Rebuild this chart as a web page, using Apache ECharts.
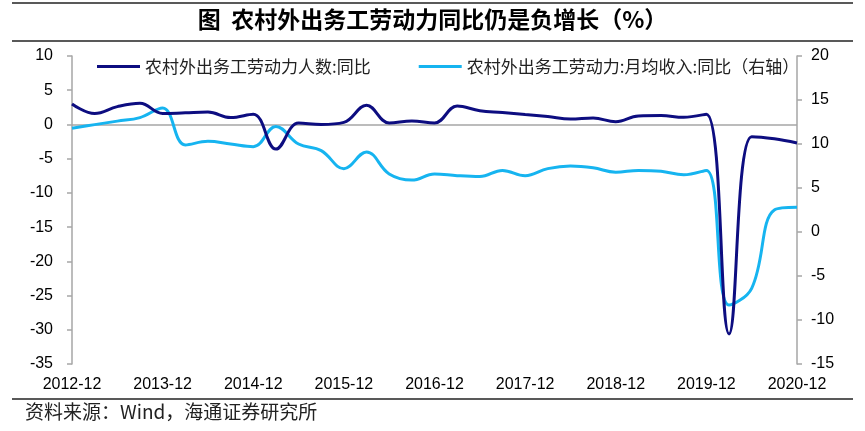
<!DOCTYPE html>
<html>
<head>
<meta charset="utf-8">
<script src="https://cdn.jsdelivr.net/npm/echarts@6/dist/echarts.min.js"></script>
<style>
html,body{margin:0;padding:0;background:#fff;}
#chart{width:865px;height:431px;}
</style>
</head>
<body>
<div id="chart"></div>
<script>
// Quarterly categories
const categories = [
  '2012-12','2013-03','2013-06','2013-09','2013-12','2014-03','2014-06','2014-09',
  '2014-12','2015-03','2015-06','2015-09','2015-12','2016-03','2016-06','2016-09',
  '2016-12','2017-03','2017-06','2017-09','2017-12','2018-03','2018-06','2018-09',
  '2018-12','2019-03','2019-06','2019-09','2019-12','2020-03','2020-06','2020-09',
  '2020-12'
];
// 农村外出务工劳动力人数:同比 (left axis)
const workersYoY = [
  3.0, 1.6, 2.6, 3.1, 1.6, 1.7, 1.8, 1.0,
  1.5, -3.6, 0.2, 0.0, 0.3, 2.8, 0.2, 0.5,
  0.2, 2.7, 2.0, 1.75, 1.45, 1.15, 0.8, 0.95,
  0.4, 1.25, 1.3, 1.05, 1.5, -30.6, -1.8, -2.1,
  -2.7
];
// 农村外出务工劳动力:月均收入:同比 (right axis)
const incomeYoY = [
  11.8, 12.2, 12.6, 13.0, 14.1, 9.9, 10.3, 10.0,
  9.7, 12.0, 10.0, 9.25, 7.2, 9.1, 6.6, 5.9,
  6.6, 6.4, 6.3, 7.0, 6.4, 7.2, 7.5, 7.3,
  6.8, 7.0, 6.9, 6.5, 7.0, -8.3, -6.4, 2.5,
  2.8
];
const seriesNames = ['农村外出务工劳动力人数:同比', '农村外出务工劳动力:月均收入:同比（右轴）'];
const titleText = '图  农村外出务工劳动力同比仍是负增长（%）';
const sourceText = '资料来源：Wind，海通证券研究所';

const FONT = '"Liberation Sans", Arial, "Noto Sans CJK SC", sans-serif';
const CJK = '"Noto Sans CJK SC", "Liberation Sans", sans-serif';
const chart = echarts.init(document.getElementById('chart'), null, {renderer: 'canvas'});
const axisGray = '#a6a6a6';
chart.setOption({
  animation: false,
  backgroundColor: '#fff',
  graphic: [
    {type: 'line', shape: {x1: 12, y1: 3, x2: 853, y2: 3}, style: {stroke: '#595959', lineWidth: 2}},
    {type: 'line', shape: {x1: 12, y1: 41, x2: 853, y2: 41}, style: {stroke: '#595959', lineWidth: 2}},
    {type: 'line', shape: {x1: 12, y1: 399, x2: 853, y2: 399}, style: {stroke: '#595959', lineWidth: 2}},
    {type: 'text', left: 'center', top: 8, style: {text: titleText, font: 'bold 23px ' + CJK, fill: '#000'}},
    {type: 'text', left: 25, top: 402, style: {text: sourceText, font: '19px ' + CJK, fill: '#222'}}
  ],
  grid: {left: 72, right: 68, top: 56, bottom: 67},
  legend: {
    left: 92, top: 53,
    itemWidth: 43, itemHeight: 3, itemGap: 48,
    icon: 'rect',
    textStyle: {fontFamily: CJK, fontSize: 17, color: '#222'},
    data: seriesNames
  },
  xAxis: {
    type: 'category',
    data: categories,
    boundaryGap: false,
    axisLine: {show: false, onZero: false},
    axisTick: {show: false},
    axisLabel: {interval: 3, fontFamily: FONT, fontSize: 16, color: '#000', margin: 13},
    splitLine: {show: false}
  },
  yAxis: [
    {
      type: 'value', min: -35, max: 10, interval: 5,
      axisLine: {show: true, lineStyle: {color: axisGray, width: 1.5}},
      axisTick: {show: true, inside: false, length: 5, lineStyle: {color: axisGray, width: 1.5}},
      axisLabel: {fontFamily: FONT, fontSize: 16, color: '#000', margin: 19},
      splitLine: {show: false}
    },
    {
      type: 'value', min: -15, max: 20, interval: 5, position: 'right',
      axisLine: {show: true, lineStyle: {color: axisGray, width: 1.5}},
      axisTick: {show: true, inside: false, length: 5, lineStyle: {color: axisGray, width: 1.5}},
      axisLabel: {fontFamily: FONT, fontSize: 16, color: '#000', margin: 14},
      splitLine: {show: false}
    }
  ],
  series: [
    {
      name: seriesNames[0], type: 'line', yAxisIndex: 0,
      data: workersYoY, smooth: 0.4, symbol: 'none', z: 3,
      lineStyle: {color: '#0d0d80', width: 3},
      itemStyle: {color: '#0d0d80'},
      markLine: {
        silent: true, symbol: 'none', label: {show: false},
        lineStyle: {color: axisGray, width: 1.5, type: 'solid'},
        data: [{yAxis: 0}],
        z: 1
      }
    },
    {
      name: seriesNames[1], type: 'line', yAxisIndex: 1,
      data: incomeYoY, smooth: 0.4, symbol: 'none', z: 2,
      lineStyle: {color: '#16b4f0', width: 3},
      itemStyle: {color: '#16b4f0'}
    }
  ]
});
</script>
</body>
</html>
